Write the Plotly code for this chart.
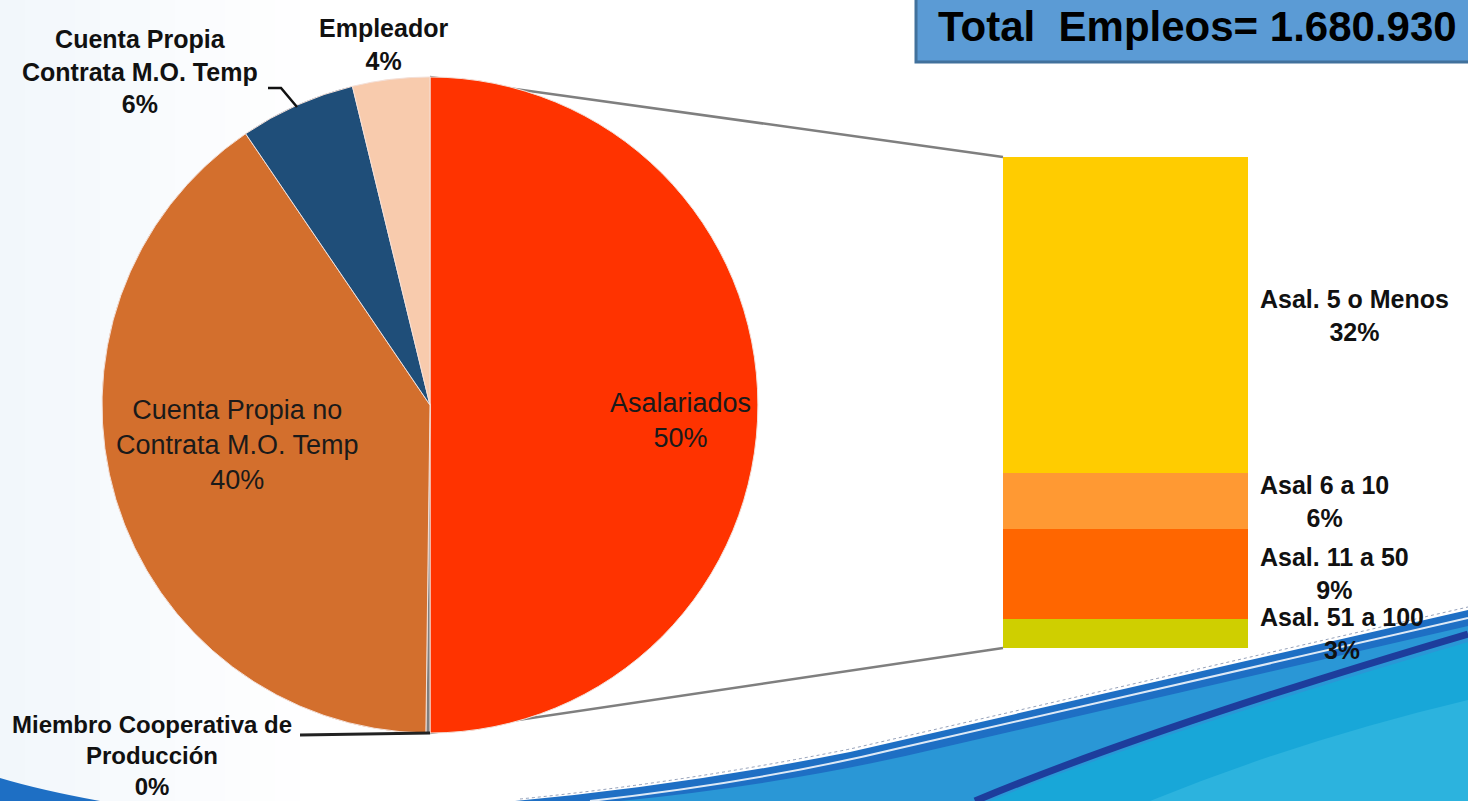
import plotly.graph_objects as go

W, H = 1468, 801

# ---------------- data ----------------
pie_labels = ["Asalariados", "Miembro Cooperativa de Producción",
              "Cuenta Propia no Contrata M.O. Temp",
              "Cuenta Propia Contrata M.O. Temp", "Empleador"]
pie_values = [50.0, 0.2, 40.3, 5.7, 3.8]
pie_colors = ["#FF3300", "#7F7F7F", "#D36F2D", "#1F4E79", "#F8CBAD"]

bar_labels = ["Asal. 51 a 100", "Asal. 11 a 50", "Asal 6 a 10", "Asal. 5 o Menos"]
bar_values = [3.0, 9.1, 5.7, 32.2]
bar_colors = ["#CFCF00", "#FF6600", "#FF9933", "#FFCC00"]

total_text = "Total\u00a0\u00a0Empleos= 1.680.930"

FONT = "Liberation Sans, Arial, sans-serif"


def px(x):
    return x / W


def py(y):
    return 1 - y / H


def path(cmds):
    out = []
    for c in cmds:
        if c[0] == "Z":
            out.append("Z")
            continue
        nums = c[1:]
        pts = []
        for i in range(0, len(nums), 2):
            pts.append(f"{px(nums[i]):.5f},{py(nums[i+1]):.5f}")
        out.append(c[0] + " " + " ".join(pts))
    return " ".join(out)


fig = go.Figure()

# pie
fig.add_trace(go.Pie(
    labels=pie_labels, values=pie_values, sort=False, direction="clockwise",
    rotation=0, marker=dict(colors=pie_colors, line=dict(color="#F4E0D8", width=1)),
    textinfo="none", hoverinfo="label+percent", showlegend=False,
    domain=dict(x=[px(430 - 328), px(430 + 328)], y=[py(733), py(77)]),
))

# stacked bar
for lab, val, col in zip(bar_labels, bar_values, bar_colors):
    fig.add_trace(go.Bar(
        x=["Asalariados"], y=[val], name=lab, marker=dict(color=col, line=dict(width=0)),
        showlegend=False, xaxis="x", yaxis="y",
    ))

shapes = []
# faint background tint on the left
for i in range(12):
    a = 0.32 * (1 - i / 12)
    shapes.append(dict(type="rect", xref="paper", yref="paper", layer="below",
                       x0=px(i * 25), x1=px(i * 25 + 25), y0=py(801), y1=py(0),
                       fillcolor=f"rgba(215,230,244,{a:.3f})", line=dict(width=0)))

# swoosh at the bottom
swoosh = [
    ([("M", 0, 778), ("Q", 40, 790, 100, 801), ("L", 0, 801), ("Z",)], "#1E6FC4"),
    ([("M", 515, 801), ("Q", 680, 786, 850, 752), ("L", 1468, 610), ("L", 1468, 801), ("Z",)], "#1E6FC4"),
    ([("M", 620, 801), ("Q", 790, 784, 940, 748), ("L", 1468, 626), ("L", 1468, 801), ("Z",)], "#2A97D6"),
    ([("M", 990, 801), ("Q", 1150, 735, 1468, 642), ("L", 1468, 801), ("Z",)], "#18A7D8"),
    ([("M", 1150, 801), ("Q", 1300, 740, 1468, 700), ("L", 1468, 801), ("Z",)], "#2CB3DE"),
]
for cmds, col in swoosh:
    shapes.append(dict(type="path", xref="paper", yref="paper", layer="below",
                       path=path(cmds), fillcolor=col, line=dict(width=0)))
shapes.append(dict(type="path", xref="paper", yref="paper", layer="below",
                   path=path([("M", 590, 801), ("Q", 760, 782, 900, 748), ("L", 1468, 618)]),
                   line=dict(color="rgba(255,255,255,0.85)", width=2)))
shapes.append(dict(type="path", xref="paper", yref="paper", layer="below",
                   path=path([("M", 975, 801), ("Q", 1150, 728, 1468, 634)]),
                   line=dict(color="#1D3D9C", width=7)))
shapes.append(dict(type="path", xref="paper", yref="paper", layer="below",
                   path=path([("M", 520, 799), ("Q", 680, 783, 850, 749), ("L", 1468, 607)]),
                   line=dict(color="rgba(80,100,140,0.6)", width=1, dash="dot")))

# connector lines pie -> bar
shapes.append(dict(type="line", xref="paper", yref="paper", layer="below",
                   x0=px(430), y0=py(77), x1=px(1003), y1=py(157),
                   line=dict(color="#7F7F7F", width=2.5)))
shapes.append(dict(type="line", xref="paper", yref="paper", layer="below",
                   x0=px(430), y0=py(733), x1=px(1003), y1=py(648),
                   line=dict(color="#7F7F7F", width=2.5)))

# leader lines
shapes.append(dict(type="path", xref="paper", yref="paper",
                   path=path([("M", 268, 88), ("L", 281, 88), ("L", 297, 107)]),
                   line=dict(color="#111111", width=2.5)))
shapes.append(dict(type="line", xref="paper", yref="paper",
                   x0=px(300), y0=py(735), x1=px(430), y1=py(733),
                   line=dict(color="#222222", width=3)))

# title box
shapes.append(dict(type="rect", xref="paper", yref="paper",
                   x0=px(916), x1=px(1480), y0=py(62), y1=py(-10),
                   fillcolor="#5B9BD5", line=dict(color="#41719C", width=3)))

annotations = []


def pct(v):
    return f"{round(v):.0f}%"


inside = dict(family=FONT, size=27, color="#1A1A1A")
# inside pie labels
annotations.append(dict(xref="paper", yref="paper", x=px(680), y=py(421),
                        xanchor="center", yanchor="middle",
                        text=f"{pie_labels[0]}<br>{pct(pie_values[0])}", showarrow=False,
                        font=inside, align="center"))
annotations.append(dict(xref="paper", yref="paper", x=px(237), y=py(445),
                        xanchor="center", yanchor="middle",
                        text=f"Cuenta Propia no<br>Contrata M.O. Temp<br>{pct(pie_values[2])}",
                        showarrow=False, font=inside, align="center"))
# outside pie labels
bold = dict(family=FONT, size=25, color="#111111")
annotations.append(dict(xref="paper", yref="paper", x=px(383), y=py(44),
                        xanchor="center", yanchor="middle",
                        text=f"<b>{pie_labels[4]}<br>{pct(pie_values[4])}</b>",
                        showarrow=False, font=bold, align="center"))
annotations.append(dict(xref="paper", yref="paper", x=px(140), y=py(71),
                        xanchor="center", yanchor="middle",
                        text=f"<b>Cuenta Propia<br>Contrata M.O. Temp<br>{pct(pie_values[3])}</b>",
                        showarrow=False, font=bold, align="center"))
annotations.append(dict(xref="paper", yref="paper", x=px(152), y=py(755),
                        xanchor="center", yanchor="middle",
                        text=f"<b>Miembro Cooperativa de<br>Producción<br>{pct(pie_values[1])}</b>",
                        showarrow=False, font=dict(family=FONT, size=24, color="#111111"),
                        align="center"))

# bar labels
cum = 0
for lab, val in zip(bar_labels, bar_values):
    mid = cum + val / 2
    cum += val
    annotations.append(dict(xref="paper", yref="y", x=px(1258), y=mid, xanchor="left",
                            yanchor="middle", text=f"<b>{lab}<br>{pct(val)}</b>",
                            showarrow=False, font=bold, align="center"))

# title
annotations.append(dict(xref="paper", yref="paper", x=px(936), y=py(27), xanchor="left",
                        yanchor="middle", text=f"<b>{total_text}</b>", showarrow=False,
                        font=dict(family=FONT, size=42, color="#000000")))

fig.update_layout(
    width=W, height=H, margin=dict(l=0, r=0, t=0, b=0),
    paper_bgcolor="#FFFFFF", plot_bgcolor="rgba(0,0,0,0)",
    barmode="stack", bargap=0,
    xaxis=dict(domain=[px(1003), px(1248)], range=[-0.5, 0.5], visible=False, fixedrange=True),
    yaxis=dict(domain=[py(648), py(157)], range=[0, 50], visible=False, fixedrange=True),
    shapes=shapes, annotations=annotations,
    font=dict(family=FONT),
)

fig.write_html("out.html", config={"displayModeBar": False},
               post_script="document.body.style.margin='0';document.body.style.overflow='hidden';")
